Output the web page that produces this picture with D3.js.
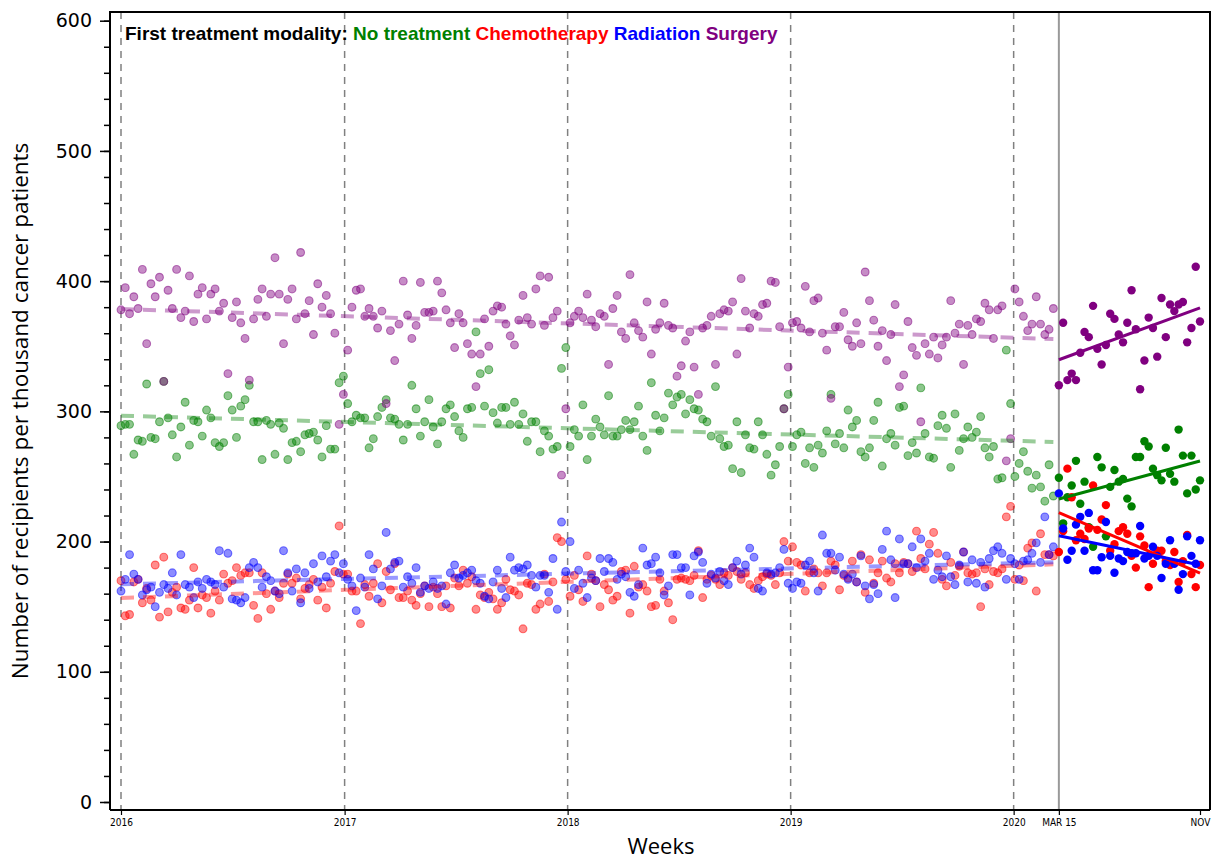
<!DOCTYPE html>
<html lang="en">
<head>
    <meta charset="UTF-8">
    <title>First treatment modality per week</title>
    <script src="https://d3js.org/d3.v7.min.js"></script>
    <style>
        body {
            margin: 0;
            padding: 0;
            background: #fff;
        }
        svg {
            display: block;
        }
        .legend {
            font-family: "Liberation Sans", Arial, sans-serif;
            font-weight: bold;
            font-size: 19px;
        }
        .ylab text {
            font-family: "DejaVu Sans", sans-serif;
            font-size: 19px;
            fill: #000;
        }
        .xlab text {
            font-family: "Liberation Sans Narrow", "DejaVu Sans Condensed", sans-serif;
            font-size: 10px;
            fill: #000;
        }
        .title {
            font-family: "Open Sans", sans-serif;
            fill: #000;
        }
    </style>
</head>
<body>
    <svg id="chart" width="1211" height="863"></svg>

    <script>
        // series, one value per week (pre-period starts 2016-01-01, post-period starts 2020-03-15)
        const seriesNames = ["No treatment", "Chemotherapy", "Radiation", "Surgery"];
        const seriesColors = ["#008000", "#ff0000", "#0000ff", "#800080"];

        const noTreatmentPre = [
            289, 290, 290, 267, 278, 277, 321, 280, 279, 292, 323, 295, 282, 265, 288, 307, 274, 293, 292, 281,
            301, 295, 276, 273, 276, 312, 301, 280, 304, 309, 320, 292, 292, 263, 293, 290, 267, 291, 287, 263,
            276, 277, 269, 282, 283, 284, 278, 265, 289, 271, 271, 322,
            327, 306, 292, 297, 295, 295, 272, 279, 296, 303, 309, 295, 294, 290, 278, 290, 320, 302, 281, 292,
            309, 288, 275, 292, 302, 305, 296, 285, 280, 302, 303, 361, 329, 304, 332, 299, 291, 303, 303, 290,
            307, 290, 298, 277, 292, 292, 269, 285, 281, 271, 273, 333, 349,
            273, 286, 281, 305, 263, 281, 294, 288, 282, 312, 281, 281, 286, 293, 286, 292, 304, 281, 270, 322,
            297, 285, 295, 314, 305, 311, 313, 298, 309, 302, 301, 294, 292, 281, 319, 279, 273, 274, 256, 292,
            253, 282, 272, 271, 292, 282, 267, 251, 259, 273, 302, 313,
            273, 282, 284, 260, 272, 257, 274, 268, 285, 313, 275, 283, 272, 301, 288, 293, 269, 265, 272, 293,
            307, 258, 279, 283, 274, 303, 304, 266, 276, 268, 318, 283, 265, 264, 289, 297, 287, 257, 298, 270,
            279, 288, 280, 284, 296, 272, 265, 273, 248, 249, 347, 306,
            250, 260, 269, 254, 241, 251, 242, 231, 259, 235
        ];
        const chemoPre = [
            170, 143, 144, 169, 171, 153, 164, 155, 182, 142, 188, 146, 161, 165, 149, 148, 155, 180, 149, 159,
            157, 145, 162, 155, 175, 168, 170, 180, 174, 176, 176, 151, 141, 176, 160, 148, 162, 157, 168, 175,
            168, 172, 156, 164, 167, 171, 155, 165, 149, 168, 177, 212,
            175, 175, 162, 162, 137, 167, 158, 168, 183, 153, 177, 163, 183, 157, 157, 162, 155, 151, 160, 166,
            150, 165, 160, 150, 166, 149, 172, 166, 178, 168, 173, 148, 159, 157, 161, 156, 148, 153, 171, 163,
            162, 159, 133, 168, 167, 148, 152, 175, 154, 169, 203, 200, 171,
            158, 174, 163, 154, 189, 175, 170, 150, 167, 163, 155, 158, 177, 178, 145, 181, 165, 167, 162, 150,
            151, 171, 162, 153, 140, 171, 172, 171, 170, 174, 193, 157, 171, 174, 171, 167, 176, 174, 180, 177,
            171, 176, 167, 164, 170, 173, 175, 174, 167, 176, 200, 185,
            196, 184, 182, 162, 176, 179, 176, 166, 176, 185, 182, 163, 174, 172, 185, 169, 190, 161, 186, 168,
            176, 185, 172, 169, 183, 176, 184, 183, 177, 208, 187, 179, 198, 207, 191, 171, 166, 184, 174, 181,
            192, 176, 175, 176, 150, 179, 167, 177, 176, 179, 219, 227,
            171, 182, 170, 195, 199, 162, 206, 190, 190, 189
        ];
        const radiationPre = [
            162, 171, 190, 175, 171, 159, 163, 165, 150, 161, 167, 164, 176, 159, 190, 167, 165, 157, 169, 164,
            171, 169, 167, 193, 165, 191, 156, 155, 153, 157, 180, 184, 180, 165, 173, 170, 162, 160, 193, 176,
            162, 179, 153, 176, 164, 183, 169, 189, 173, 185, 190, 176,
            183, 171, 166, 147, 172, 165, 190, 179, 156, 166, 207, 179, 184, 185, 165, 173, 168, 180, 161, 166,
            164, 169, 164, 166, 152, 176, 182, 172, 174, 176, 178, 170, 168, 158, 156, 169, 178, 164, 157, 188,
            178, 180, 179, 182, 174, 165, 174, 174, 161, 187, 148, 215, 177,
            200, 164, 178, 168, 157, 172, 170, 187, 177, 187, 184, 171, 175, 173, 161, 158, 167, 195, 182, 183,
            188, 176, 159, 166, 190, 190, 180, 180, 159, 189, 192, 184, 168, 175, 172, 177, 170, 167, 180, 185,
            175, 182, 195, 188, 164, 162, 176, 175, 176, 180, 194, 168,
            164, 169, 168, 182, 185, 176, 162, 205, 191, 191, 178, 188, 175, 171, 175, 169, 189, 166, 156, 167,
            160, 194, 208, 186, 157, 202, 183, 183, 196, 180, 202, 185, 191, 171, 178, 173, 189, 173, 167, 182,
            192, 169, 186, 168, 184, 165, 187, 193, 196, 191, 171, 187,
            183, 171, 185, 186, 191, 199, 184, 219, 190, 196
        ];
        const surgeryPre = [
            378, 395, 375, 388, 379, 409, 352, 398, 388, 403, 323, 393, 379, 409, 372, 377, 404, 369, 390, 395,
            371, 390, 394, 377, 383, 329, 372, 384, 368, 356, 324, 371, 386, 394, 373, 390, 418, 390, 352, 386,
            394, 371, 422, 375, 385, 359, 398, 380, 389, 375, 360, 290,
            313, 347, 380, 393, 394, 373, 379, 373, 364, 377, 306, 362, 339, 367, 400, 374, 356, 366, 399, 376,
            376, 377, 400, 391, 378, 368, 349, 375, 368, 352, 344, 319, 344, 371, 350, 377, 381, 380, 367, 358,
            351, 370, 389, 372, 367, 394, 404, 366, 403, 372, 377, 251, 302,
            368, 373, 377, 372, 390, 370, 365, 375, 373, 336, 379, 389, 361, 356, 405, 368, 362, 357, 384, 344,
            363, 368, 383, 366, 364, 327, 335, 354, 361, 334, 313, 364, 366, 373, 336, 375, 378, 377, 384, 344,
            402, 377, 364, 375, 373, 382, 383, 400, 399, 365, 302, 334,
            368, 369, 364, 396, 361, 385, 387, 360, 347, 310, 365, 365, 376, 355, 350, 368, 352, 407, 385, 370,
            350, 362, 339, 359, 382, 319, 328, 369, 349, 343, 292, 352, 344, 357, 341, 351, 357, 385, 360, 367,
            336, 366, 359, 371, 369, 383, 378, 356, 378, 381, 262, 279,
            394, 384, 373, 362, 367, 388, 367, 359, 363, 379
        ];

        const noTreatmentPost = [
            249, 214, 234, 243, 262, 229, 246, 211, 196, 265, 257, 204, 242, 255, 246, 248, 233, 227, 265, 265,
            277, 273, 256, 251, 247, 272, 252, 246, 286, 266, 237, 266, 240, 247
        ];
        const chemoPost = [
            192, 208, 256, 234, 201, 206, 202, 210, 243, 209, 217, 228, 193, 198, 208, 211, 206, 189, 180, 204,
            197, 165, 183, 193, 193, 185, 182, 192, 169, 185, 205, 175, 165, 182
        ];
        const radiationPost = [
            237, 210, 186, 193, 213, 219, 193, 222, 178, 178, 188, 215, 189, 176, 187, 185, 192, 191, 191, 212,
            187, 189, 196, 189, 172, 183, 201, 183, 163, 175, 204, 189, 183, 201
        ];
        const surgeryPost = [
            320, 368, 324, 329, 324, 345, 361, 357, 381, 348, 336, 351, 375, 371, 359, 353, 368, 393, 363, 317,
            339, 372, 364, 342, 387, 357, 382, 377, 382, 384, 353, 364, 411, 369
        ];

        const preSeries = [noTreatmentPre, chemoPre, radiationPre, surgeryPre];
        const postSeries = [noTreatmentPost, chemoPost, radiationPost, surgeryPost];

        const xTickDates = ["2016-01-01", "2017-01-01", "2018-01-01", "2019-01-01", "2020-01-01", "2020-03-15", "2020-11-01"];
        const xTickLabels = ["2016", "2017", "2018", "2019", "2020", "MAR 15", "NOV"];
        const yearLines = ["2016-01-01", "2017-01-01", "2018-01-01", "2019-01-01", "2020-01-01"];

        const parse = d3.timeParse("%Y-%m-%d");
        const preStart = parse("2016-01-01");
        const postStart = parse("2020-03-15");

        const svg = d3.select("#chart");

        const plotL = 110, plotR = 1210, plotT = 12, plotB = 810;

        const x = d3.scaleTime()
            .domain([parse("2016-01-01"), parse("2020-11-01")])
            .range([121, 1200]);

        const y = d3.scaleLinear()
            .domain([0, 600])
            .range([802, 20.7]);

        const preDates = noTreatmentPre.map((d, i) => d3.timeDay.offset(preStart, 7 * i));
        const postDates = noTreatmentPost.map((d, i) => d3.timeDay.offset(postStart, 7 * i));

        // vertical dashed year lines
        svg.append("g")
            .selectAll("line")
            .data(yearLines)
            .join("line")
            .attr("x1", d => x(parse(d)))
            .attr("x2", d => x(parse(d)))
            .attr("y1", plotT)
            .attr("y2", plotB)
            .attr("stroke", "#808080")
            .attr("stroke-width", 1.5)
            .attr("stroke-dasharray", "7,6");

        // interruption line
        svg.append("line")
            .attr("x1", x(postStart))
            .attr("x2", x(postStart))
            .attr("y1", plotT)
            .attr("y2", plotB)
            .attr("stroke", "#999")
            .attr("stroke-width", 2);

        // least squares trend on week index
        function fit(vals) {
            const n = vals.length;
            const mx = (n - 1) / 2;
            const my = d3.mean(vals);
            let sxy = 0, sxx = 0;
            vals.forEach((v, i) => { sxy += (i - mx) * (v - my); sxx += (i - mx) * (i - mx); });
            const b = sxy / sxx;
            return [my - b * mx, my + b * (n - 1 - mx)];
        }

        // pre-period points
        preSeries.forEach((vals, k) => {
            svg.append("g")
                .selectAll("circle")
                .data(vals)
                .join("circle")
                .attr("cx", (d, i) => x(preDates[i]))
                .attr("cy", d => y(d))
                .attr("r", 3.9)
                .attr("fill", seriesColors[k])
                .attr("fill-opacity", 0.45)
                .attr("stroke", seriesColors[k])
                .attr("stroke-opacity", 0.5)
                .attr("stroke-width", 1.1);
        });

        // pre-period dashed trends
        preSeries.forEach((vals, k) => {
            const f = fit(vals);
            svg.append("line")
                .attr("x1", x(preDates[0]))
                .attr("x2", x(preDates[preDates.length - 1]))
                .attr("y1", y(f[0]))
                .attr("y2", y(f[1]))
                .attr("stroke", seriesColors[k])
                .attr("stroke-opacity", 0.4)
                .attr("stroke-width", 4)
                .attr("stroke-dasharray", "13,9");
        });

        // post-period points
        postSeries.forEach((vals, k) => {
            svg.append("g")
                .selectAll("circle")
                .data(vals)
                .join("circle")
                .attr("cx", (d, i) => x(postDates[i]))
                .attr("cy", d => y(d))
                .attr("r", 4.2)
                .attr("fill", seriesColors[k]);
        });

        // post-period solid trends
        postSeries.forEach((vals, k) => {
            const f = fit(vals);
            svg.append("line")
                .attr("x1", x(postDates[0]))
                .attr("x2", x(postDates[postDates.length - 1]))
                .attr("y1", y(f[0]))
                .attr("y2", y(f[1]))
                .attr("stroke", seriesColors[k])
                .attr("stroke-width", 3);
        });

        // frame
        svg.append("path")
            .attr("d", `M${plotL},${plotB}V${plotT}H${plotR}V${plotB}`)
            .attr("fill", "none")
            .attr("stroke", "#000")
            .attr("stroke-width", 2);

        // y axis: minor and major ticks
        svg.append("g")
            .attr("transform", `translate(${plotL},0)`)
            .call(d3.axisLeft(y).tickValues(d3.range(0, 601, 20)).tickSize(6).tickFormat(""))
            .call(g => g.select(".domain").remove())
            .selectAll("line").attr("stroke-width", 1.5);

        svg.append("g")
            .attr("class", "ylab")
            .attr("transform", `translate(${plotL},0)`)
            .call(d3.axisLeft(y).tickValues(d3.range(0, 601, 100)).tickSize(10).tickPadding(8))
            .call(g => g.select(".domain").attr("stroke-width", 2).attr("d", `M0,${plotT}V${plotB}`))
            .call(g => g.selectAll(".tick line").attr("stroke-width", 1.5))
            .call(g => g.selectAll("text").attr("font-family", null).attr("font-size", null));

        // x axis
        svg.append("g")
            .attr("class", "xlab")
            .attr("transform", `translate(0,${plotB})`)
            .call(d3.axisBottom(x)
                .tickValues(xTickDates.map(parse))
                .tickSize(5)
                .tickPadding(4)
                .tickFormat((d, i) => xTickLabels[i]))
            .call(g => g.select(".domain").attr("stroke-width", 2).attr("d", `M${plotL},0H${plotR}`))
            .call(g => g.selectAll(".tick line").attr("stroke-width", 1.2))
            .call(g => g.selectAll("text").attr("font-family", null).attr("font-size", null));

        // axis titles
        svg.append("text")
            .attr("class", "title")
            .attr("x", 661)
            .attr("y", 854)
            .attr("text-anchor", "middle")
            .style("font-size", "22px")
            .text("Weeks");

        svg.append("text")
            .attr("class", "title")
            .attr("transform", "translate(28,411) rotate(-90)")
            .attr("text-anchor", "middle")
            .style("font-size", "22.5px")
            .text("Number of recipients per thousand cancer patients");

        // legend line
        const legend = svg.append("text")
            .attr("class", "legend")
            .attr("x", 125)
            .attr("y", 40);
        legend.append("tspan").attr("fill", "#000").text("First treatment modality:");
        seriesNames.forEach((name, k) => {
            legend.append("tspan").attr("fill", seriesColors[k]).text(" " + name);
        });
    </script>
</body>
</html>
